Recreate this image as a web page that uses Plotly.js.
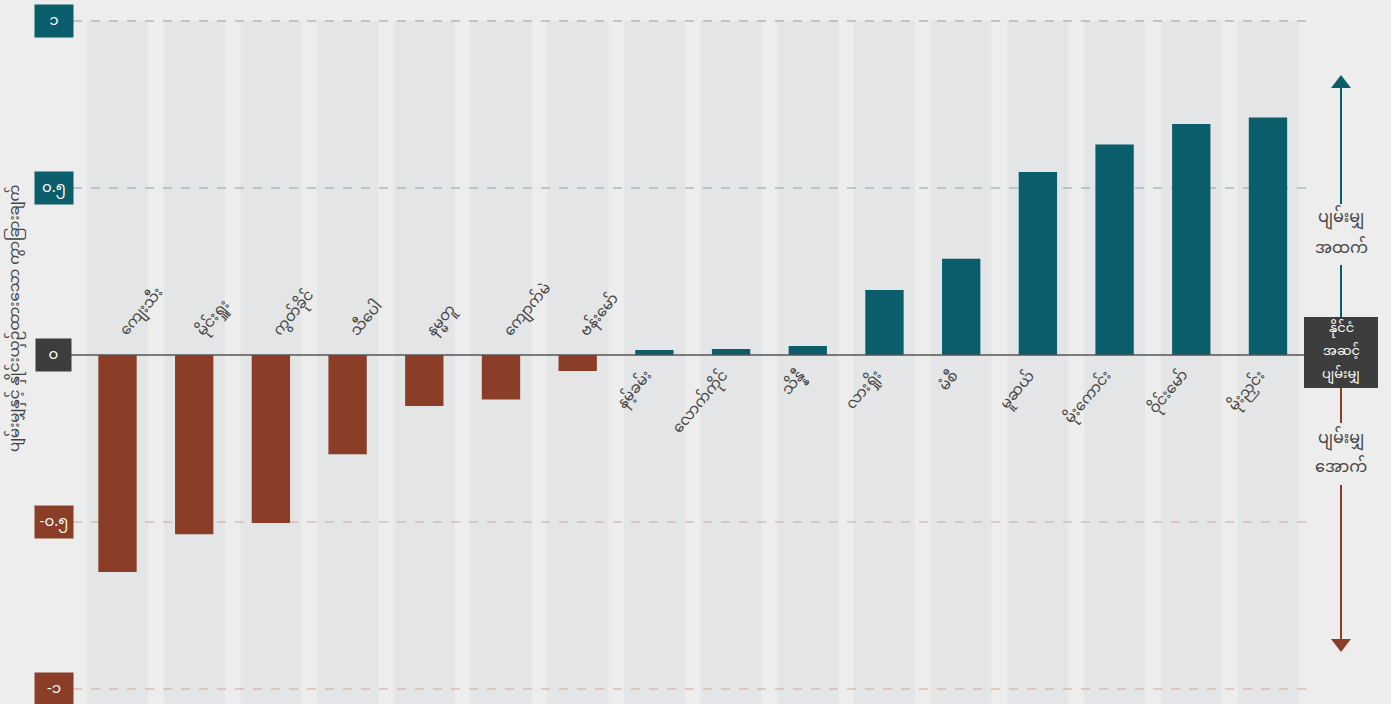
<!DOCTYPE html>
<html><head><meta charset="utf-8">
<script src="https://cdn.plot.ly/plotly-3.0.1.min.js"></script>
<style>html,body{margin:0;padding:0;background:#ededed;overflow:hidden}</style>
</head><body>
<div id="chart" style="width:1391px;height:704px"></div>
<script>
const categories = ['ကျေးသီး','မိုင်းရှူး','ကွတ်ခိုင်','သီပေါ','နမ္မတူ','ကျောက်မဲ','ဗန်းမော်','နမ့်ခမ်း','လောက်ကိုင်','သိန္နီ','လားရှိုး','မံစီ','မူဆယ်','မိုးကောင်း','ဝိုင်းမော်','မိုးညှင်း'];
const values = [-0.650,-0.537,-0.503,-0.297,-0.153,-0.133,-0.048,0.015,0.018,0.027,0.195,0.288,0.548,0.630,0.692,0.711];
const tickValues = [1,0.5,0,-0.5,-1];
const tickLabels = ['၁','၀.၅','၀','-၀.၅','-၁'];
const yTitle = 'ပျမ်းမျှနှင့် နှိုင်းယှဉ်ထားသော ကွာခြားချက်';
const aboveLabel = ['ပျမ်းမျှ','အထက်'];
const belowLabel = ['ပျမ်းမျှ','အောက်'];
const averageLabel = ['နိုင်ငံ','အဆင့်','ပျမ်းမျှ'];

const W = 1391, H = 704;
const TEAL = '#0a5d6a', RUST = '#8a3e27', DARK = '#3d3d3d', TXT = '#454545', BG = '#ededed', BAND = '#e4e5e7';
const FONT = 'Noto Sans Myanmar, Padauk, Myanmar Text, Noto Sans, sans-serif';
const xr = [-1.532, 16.604], yr = [-1.0449, 1.0629];
const px = x => x / W, py = y => 1 - y / H;
const dataX = p => xr[0] + (xr[1] - xr[0]) * p / W;
const dataY = p => yr[1] - (yr[1] - yr[0]) * p / H;

const shapes = [];
categories.forEach((c, i) => {
  shapes.push({type:'rect', layer:'below', xref:'x', yref:'y', x0:i-0.398, x1:i+0.398, y0:yr[0]-0.1, y1:1, fillcolor:BAND, line:{width:0}});
});
tickValues.forEach(v => {
  if (v === 0) return;
  shapes.push({type:'line', layer:'below', xref:'x', yref:'y', x0:dataX(73), x1:dataX(1310), y0:v, y1:v,
    line:{color: v > 0 ? '#86a4ae' : '#d3a592', width:1.2, dash:'dash'}});
});
shapes.push({type:'line', xref:'x', yref:'y', x0:dataX(70), x1:dataX(1305), y0:0, y1:0, line:{color:'#555555', width:1.5}});
// arrows and the average box
shapes.push({type:'line', xref:'paper', yref:'paper', x0:px(1341), x1:px(1341), y0:py(318), y1:py(88), line:{color:TEAL, width:2}});
shapes.push({type:'line', xref:'paper', yref:'paper', x0:px(1341), x1:px(1341), y0:py(388), y1:py(640), line:{color:RUST, width:2}});
shapes.push({type:'path', xref:'paper', yref:'paper', fillcolor:TEAL, line:{width:0},
  path:`M${px(1331)},${py(88)} L${px(1351)},${py(88)} L${px(1341)},${py(75)} Z`});
shapes.push({type:'path', xref:'paper', yref:'paper', fillcolor:RUST, line:{width:0},
  path:`M${px(1331)},${py(639)} L${px(1351)},${py(639)} L${px(1341)},${py(652)} Z`});
shapes.push({type:'rect', xref:'paper', yref:'paper', x0:px(1304), x1:px(1378), y0:py(388), y1:py(317), fillcolor:DARK, line:{width:0}});
shapes.push({type:'rect', xref:'paper', yref:'paper', x0:px(1300), x1:px(1382), y0:py(204), y1:py(265), fillcolor:BG, line:{width:0}});
shapes.push({type:'rect', xref:'paper', yref:'paper', x0:px(1300), x1:px(1382), y0:py(423), y1:py(485), fillcolor:BG, line:{width:0}});

const annotations = [];
tickValues.forEach((v, k) => {
  annotations.push({xref:'paper', yref:'y', x:px(54), y:v, text:tickLabels[k], showarrow:false,
    xanchor:'center', yanchor:'middle', width: v===0 ? 33 : 36, height:30, borderpad:1,
    bgcolor: v > 0 ? TEAL : (v < 0 ? RUST : DARK), font:{family:FONT, size:15, color:'#ffffff'}});
});
categories.forEach((c, i) => {
  const neg = values[i] < 0;
  annotations.push({xref:'x', yref:'y', text:c, showarrow:false, textangle:-50,
    x: neg ? i - 0.12 : i + 0.13, y: neg ? dataY(348) : dataY(360),
    xanchor: neg ? 'left' : 'right', yanchor: neg ? 'bottom' : 'top',
    font:{family:FONT, size:15, color:TXT}});
});
annotations.push({xref:'paper', yref:'paper', x:px(15), y:py(318), text:yTitle, textangle:-90, showarrow:false,
  xanchor:'center', yanchor:'middle', font:{family:FONT, size:15, color:TXT}});
const lineText = (arr, ys, size, color) => arr.forEach((t, k) => annotations.push({
  xref:'paper', yref:'paper', x:px(1341), y:py(ys[k]), text:t, showarrow:false,
  xanchor:'center', yanchor:'middle', font:{family:FONT, size, color}}));
lineText(aboveLabel, [219, 249], 16, TXT);
lineText(belowLabel, [439, 469], 16, TXT);
lineText(averageLabel, [329, 352, 375], 13, '#ffffff');

const trace = {type:'bar', x:categories, y:values, width:0.5,
  marker:{color: values.map(v => v < 0 ? RUST : TEAL), line:{width:0}}, hoverinfo:'skip'};

Plotly.newPlot('chart', [trace], {
  width:W, height:H, margin:{l:0, r:0, t:0, b:0},
  paper_bgcolor:BG, plot_bgcolor:BG, showlegend:false,
  xaxis:{range:xr, visible:false, showgrid:false, zeroline:false, type:'category'},
  yaxis:{range:yr, visible:false, showgrid:false, zeroline:false},
  shapes, annotations, font:{family:FONT}
}, {staticPlot:true});
</script>
</body></html>
